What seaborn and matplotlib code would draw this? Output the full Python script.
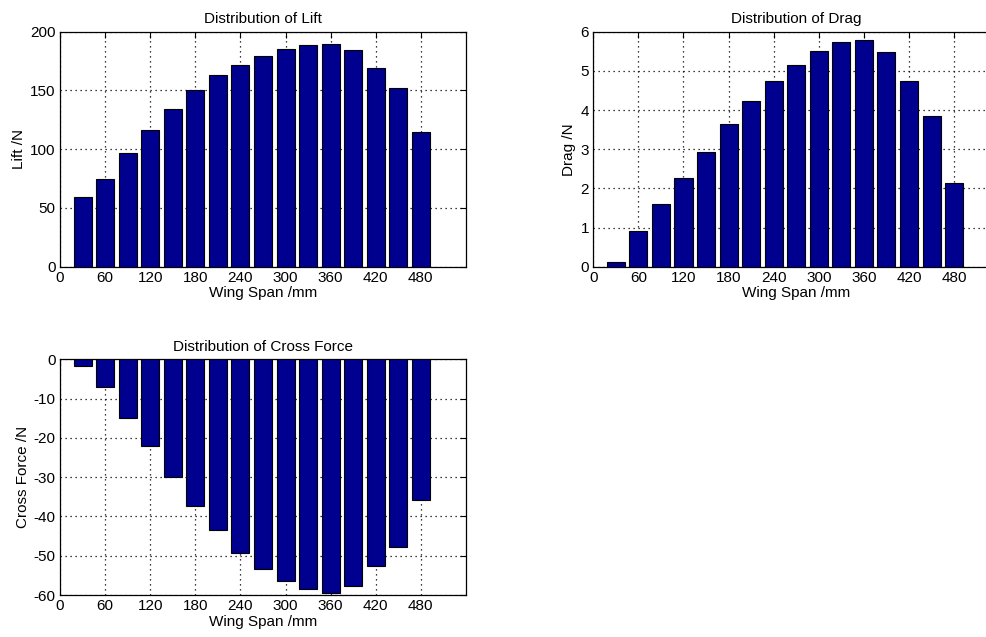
import matplotlib
matplotlib.use("Agg")
import matplotlib.pyplot as plt
import seaborn as sns
import numpy as np
import pandas as pd

span = [30, 60, 90, 120, 150, 180, 210, 240, 270, 300, 330, 360, 390, 420, 450, 480]
lift = [59.6, 74.3, 96.5, 116.6, 134.2, 150.4, 162.8, 171.6, 179.3, 185.0, 188.9, 189.2, 184.1, 168.8, 152.3, 114.6]
drag = [0.11, 0.90, 1.59, 2.26, 2.92, 3.64, 4.22, 4.75, 5.15, 5.52, 5.75, 5.79, 5.49, 4.75, 3.85, 2.14]
cross = [-1.6, -7.1, -14.9, -22.1, -29.9, -37.3, -43.5, -49.2, -53.5, -56.4, -58.4, -59.6, -57.6, -52.6, -47.7, -35.7]
xticks = [0, 60, 120, 180, 240, 300, 360, 420, 480]

sns.set_theme(style="white")
plt.rcParams['font.family'] = ['Liberation Sans Narrow', 'Liberation Sans', 'DejaVu Sans']
plt.rcParams['axes.unicode_minus'] = False
plt.rcParams['text.color'] = 'black'
plt.rcParams['axes.labelcolor'] = 'black'

fig = plt.figure(figsize=(9.87, 6.37), dpi=100)
BAR = '#00008F'
FS = 11

def panel(rect, vals, ylim, yticks, title, ylabel):
    ax = fig.add_axes(rect)
    df = pd.DataFrame({'span': span, 'val': vals})
    sns.barplot(data=df, x='span', y='val', native_scale=True, width=0.8,
                color=BAR, saturation=1, edgecolor='black', linewidth=0.8, ax=ax, zorder=3)
    ax.set_xlim(0, 540)
    ax.set_ylim(*ylim)
    ax.set_xticks(xticks)
    ax.set_yticks(yticks)
    ax.grid(True, linestyle=(0, (1, 3)), color='black', linewidth=0.9, zorder=0)
    ax.set_axisbelow(True)
    ax.tick_params(direction='in', length=4, width=0.8, top=True, right=True,
                   labelsize=FS, colors='black', pad=3)
    for s in ax.spines.values():
        s.set_visible(True)
        s.set_color('black')
        s.set_linewidth(0.9)
    ax.set_title(title, fontsize=FS, pad=6, color='black')
    ax.set_xlabel('Wing Span /mm', fontsize=FS, labelpad=1)
    ax.set_ylabel(ylabel, fontsize=FS, labelpad=3)
    return ax

panel([0.0608, 0.5813, 0.4113, 0.3689], lift, (0, 200), [0, 50, 100, 150, 200],
      'Distribution of Lift', 'Lift /N')
panel([0.6011, 0.5813, 0.4113, 0.3689], drag, (0, 6), [0, 1, 2, 3, 4, 5, 6],
      'Distribution of Drag', 'Drag /N')
panel([0.0608, 0.0659, 0.4113, 0.3700], cross, (-60, 0), [-60, -50, -40, -30, -20, -10, 0],
      'Distribution of Cross Force', 'Cross Force /N')

fig.savefig('out.png', dpi=100)
